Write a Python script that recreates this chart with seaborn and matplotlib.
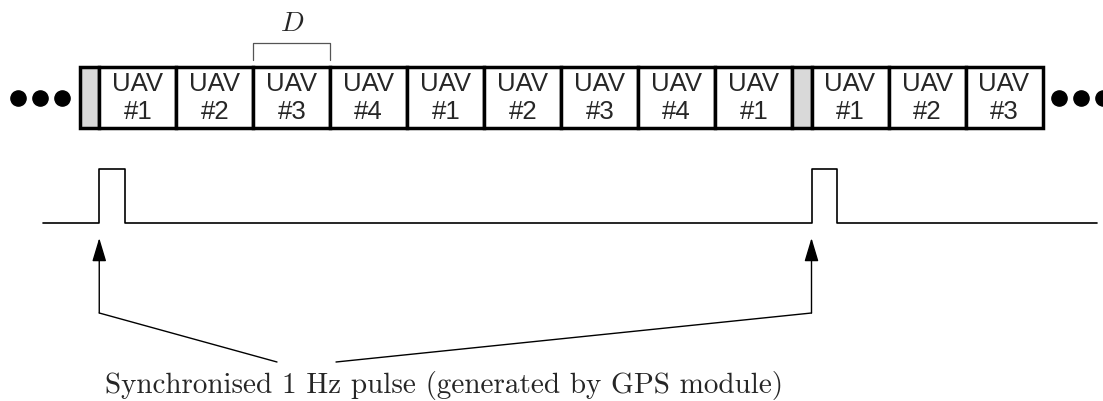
import numpy as np
import pandas as pd
import matplotlib.pyplot as plt
import seaborn as sns

# slot order in each frame (a guard slot comes before every frame)
frame1_uav = [1, 2, 3, 4, 1, 2, 3, 4, 1]
frame2_uav = [1, 2, 3]
guard_width = 0.25
pulse_width = 0.33
caption = 'Synchronised 1 Hz pulse (generated by GPS module)'

sns.set_style('white')
plt.rcParams['mathtext.fontset'] = 'cm'
plt.rcParams['font.family'] = ['Liberation Sans', 'DejaVu Sans']

fig = plt.figure(figsize=(11.03, 4.01), dpi=100)
ax = fig.add_axes([0, 0, 1, 1])
ax.set_xlim(-80 / 77, (1103 - 80) / 77)
ax.set_ylim(401, 0)
ax.axis('off')

# 1. Frame row
slots = []
x = 0.0
pulse_starts = []
for frame in [frame1_uav, frame2_uav]:
    slots.append((x, guard_width, None))
    x += guard_width
    pulse_starts.append(x)
    for k in frame:
        slots.append((x, 1.0, k))
        x += 1.0
frame_end = x

slot_df = pd.DataFrame(slots, columns=['start', 'width', 'uav'])
ax.bar(slot_df['start'], 61, width=slot_df['width'], bottom=67, align='edge',
       color=['#d9d9d9' if pd.isna(u) else 'white' for u in slot_df['uav']],
       edgecolor='black', linewidth=2.5, zorder=2)
for _, r in slot_df.dropna().iterrows():
    cx = r['start'] + r['width'] / 2
    ax.text(cx, 84, 'UAV', ha='center', va='center', fontsize=18.5, zorder=3)
    ax.text(cx, 112, '#{}'.format(int(r['uav'])), ha='center', va='center',
            fontsize=18.5, zorder=3)

# dots on both sides
dot_x = np.concatenate([-0.23 - 0.29 * np.arange(3), frame_end + 0.21 + 0.29 * np.arange(3)])
ax.scatter(dot_x, np.full(dot_x.shape, 98), s=120, color='black', zorder=3, clip_on=False)

# 2. Slot duration D
d0 = slots[3][0]
ax.plot([d0, d0, d0 + 1, d0 + 1], [60, 43, 43, 60], color='#555555', lw=0.9)
ax.text(d0 + 0.5, 24, '$D$', ha='center', va='center', fontsize=20)

# 3. PPS signal
px, py = [-0.48], [223]
for p in pulse_starts:
    px += [p, p, p + pulse_width, p + pulse_width]
    py += [223, 169, 169, 223]
px.append(13.21)
py.append(223)
sns.lineplot(x=px, y=py, sort=False, estimator=None, color='black', lw=1.2, ax=ax)

# 4. Arrows to the caption
ends = [(277 - 80) / 77, (336 - 80) / 77]
for p, e in zip(pulse_starts, ends):
    ax.annotate('', xy=(p, 238), xytext=(p, 313),
                arrowprops=dict(arrowstyle='-|>,head_length=0.5,head_width=0.15',
                                mutation_scale=29, lw=1.0, color='black',
                                shrinkA=0, shrinkB=0))
    ax.plot([p, e], [313, 362], color='black', lw=1.0)

ax.text((105 - 80) / 77, 393, caption, ha='left', va='baseline',
        fontsize=21, family='cmr10')

fig.savefig('out.png', dpi=100)
